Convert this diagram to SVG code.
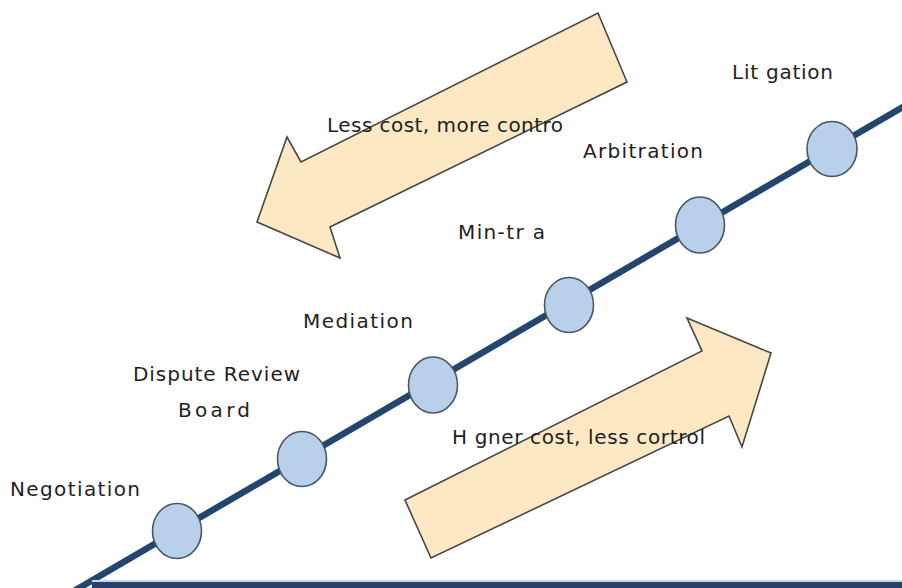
<svg xmlns="http://www.w3.org/2000/svg" width="902" height="588" viewBox="0 0 902 588">
<style>
.lbl{font-family:"DejaVu Sans","Liberation Sans",Arial,sans-serif;font-size:20px;fill:#1e1e1e;}
.stage{fill:#b9d0ea;stroke:#4a5563;stroke-width:1.6;}
.bigarrow{fill:#fce9c4;stroke:#464646;stroke-width:1.6;stroke-linejoin:miter;}
.axis{stroke:#23466f;stroke-width:6.5;fill:none;}
</style>
<rect width="902" height="588" fill="#ffffff"/>
<g id="connectors">
<line class="axis" x1="74" y1="591" x2="908" y2="104"/>
<rect x="92" y="580" width="810" height="2" fill="#c3d9e8"/>
<rect x="92" y="582" width="810" height="6" fill="#2b3f6b"/>
</g>
<g id="arrow-less-cost">
<polygon class="bigarrow" points="598,13 627,82 330,227 340,258 257,222 287,137 301,162"/>
<text class="lbl" x="327" y="132" textLength="236" lengthAdjust="spacing">Less cost, more contro</text>
</g>
<g id="arrow-higher-cost">
<polygon class="bigarrow" points="405,500 702,351 687,318 771,353 742,447 729,416 431,558"/>
<text class="lbl" x="452" y="444" textLength="253" lengthAdjust="spacing">H gner cost, less cortrol</text>
</g>
<g id="negotiation">
<ellipse class="stage" cx="177" cy="531" rx="24.5" ry="27.5"/>
<text class="lbl" x="10" y="496" textLength="130" lengthAdjust="spacing">Negotiation</text>
</g>
<g id="dispute-review-board">
<ellipse class="stage" cx="302" cy="459" rx="24.5" ry="27.5"/>
<text class="lbl" x="133" y="381" textLength="167" lengthAdjust="spacing">Dispute Review</text>
<text class="lbl" x="178" y="417" textLength="72" lengthAdjust="spacing">Board</text>
</g>
<g id="mediation">
<ellipse class="stage" cx="433" cy="385" rx="24.5" ry="28"/>
<text class="lbl" x="303" y="328" textLength="110" lengthAdjust="spacing">Mediation</text>
</g>
<g id="mini-trial">
<ellipse class="stage" cx="569" cy="305" rx="24.5" ry="27.5"/>
<text class="lbl" x="458" y="239" textLength="87" lengthAdjust="spacing">Min-tr a</text>
</g>
<g id="arbitration">
<ellipse class="stage" cx="700" cy="225" rx="24.5" ry="28"/>
<text class="lbl" x="583" y="158" textLength="120" lengthAdjust="spacing">Arbitration</text>
</g>
<g id="litigation">
<ellipse class="stage" cx="832" cy="149" rx="25" ry="27.5"/>
<text class="lbl" x="732" y="79" textLength="101" lengthAdjust="spacing">Lit gation</text>
</g>
</svg>
